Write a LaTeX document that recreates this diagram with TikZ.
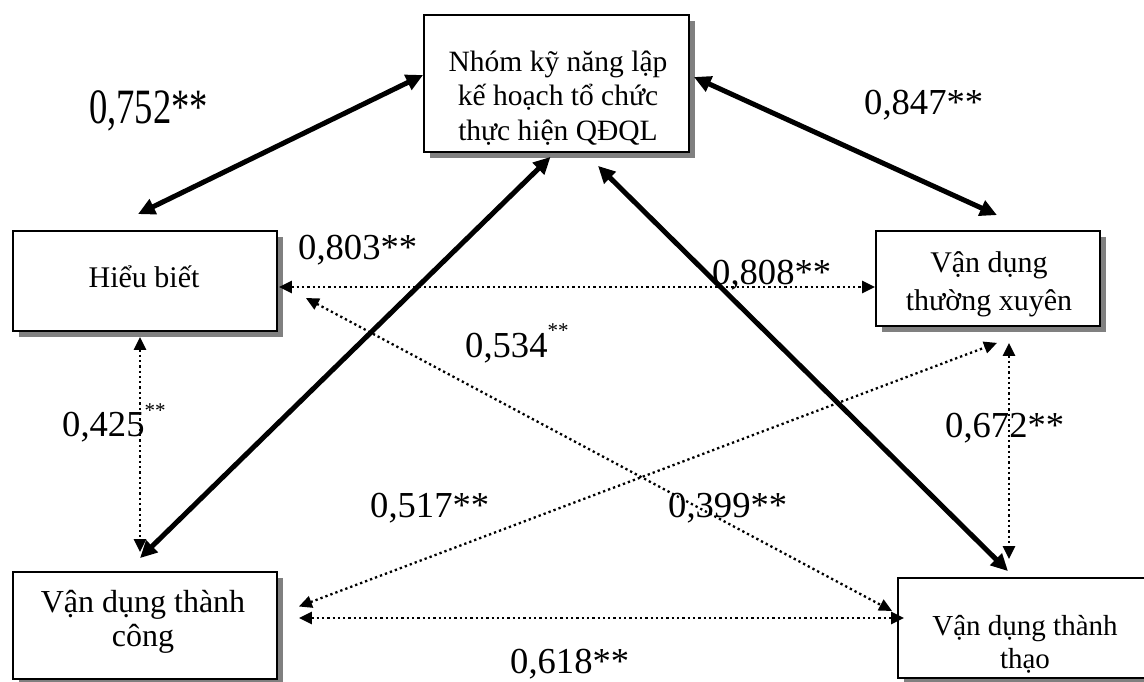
\documentclass[tikz,border=0pt]{standalone}
\usepackage{fontspec}
\setmainfont{Liberation Serif}
\usetikzlibrary{arrows.meta,calc,shadows}
\newcommand\lbfont{\fontsize{36.6}{40}\selectfont}
\newcommand\supfont{\fontsize{21}{21}\selectfont}
\begin{document}
\begin{tikzpicture}[x=1pt,y=-1pt,
  box/.style={draw, line width=1.8pt, fill=white, inner sep=0pt,
    drop shadow={shadow xshift=6pt, shadow yshift=-6pt, fill=black!50, opacity=1}},
  btext/.style={align=center, inner sep=0pt},
  lab/.style={anchor=base west, inner sep=0pt, font=\lbfont},
  thickarr/.style={line width=5pt, {Triangle[length=17pt,width=16pt]}-{Triangle[length=17pt,width=16pt]}},
  dotarr/.style={line width=2.3pt, dash pattern=on 2.3pt off 3pt, {Triangle[length=13pt,width=12pt]}-{Triangle[length=13pt,width=12pt]}}]
\useasboundingbox (0,0) rectangle (1144,682);
\clip (0,0) rectangle (1144,682);
\fill[white] (0,0) rectangle (1144,682);
% boxes
\node[box, minimum width=265pt, minimum height=137pt] (top) at (556.5,83.5) {};
\node[box, minimum width=264pt, minimum height=100pt] (hb) at (145,281) {};
\node[box, minimum width=224pt, minimum height=95pt] (tx) at (988,278.5) {};
\node[box, minimum width=264pt, minimum height=107pt] (tc) at (145,625.5) {};
\node[box, minimum width=252pt, minimum height=100pt] (tt) at (1024,628) {};
% box texts
\node[btext, font=\fontsize{29.5}{34.5}\selectfont] (topt) at (558,98) {Nhóm kỹ năng lập\\kế hoạch tổ chức\\thực hiện QĐQL};
\node[btext, font=\fontsize{30}{34}\selectfont] (hbt) at (144,277) {Hiểu biết};
\node[btext, font=\fontsize{30}{38}\selectfont] (txt) at (989,284) {Vận dụng\\thường xuyên};
\node[btext, font=\fontsize{32}{34}\selectfont] (tct) at (143,622) {Vận dụng thành\\công};
\node[btext, font=\fontsize{29}{33}\selectfont] (ttt) at (1025,644) {Vận dụng thành\\thạo};
% thick connectors
\draw[thickarr] ($(top.west)+(0,-8.5)$) -- ($(hb.north)+(-7,-16)$);
\draw[thickarr] ($(top.east)+(4,-6.5)$) -- ($(tx.north)+(9,-15)$);
\draw[thickarr] ($(top.south)+(-6,4)$) -- ($(tc.north)+(-5,-13)$);
\draw[thickarr] ($(top.south)+(41.5,13)$) -- ($(tt.north)+(-16,-6)$);
% dotted connectors
\draw[dotarr] ($(hb.east)+(1,6)$) -- ($(tx.west)+(0,8.5)$);
\draw[dotarr] ($(hb.east)+(28,17)$) -- ($(tt.west)+(-5,-17)$);
\draw[dotarr] ($(hb.south)+(-5,5)$) -- ($(tc.north)+(-5,-19)$);
\draw[dotarr] ($(tx.south)+(21,16)$) -- ($(tt.north)+(-15,-18)$);
\draw[dotarr] ($(tc.east)+(21,-19)$) -- ($(tx.south)+(9,16)$);
\draw[dotarr] ($(tc.east)+(21,-7.5)$) -- ($(tt.west)+(7,-10)$);
% labels
\node[lab] (l1) at (89,124) {\scalebox{1}[1.35]{0,752**}};
\node[lab] (l2) at (864,115) {0,847**};
\node[lab] (l3) at (298,259) {0,803**};
\node[lab] (l4) at (712,284) {0,808**};
\node[lab] (l5) at (465,357) {0,534\raisebox{20pt}{\supfont **}};
\node[lab] (l6) at (62,436) {0,425\raisebox{19pt}{\supfont **}};
\node[lab] (l7) at (945,437) {0,672**};
\node[lab] (l8) at (370,517) {0,517**};
\node[lab] (l9) at (668,517) {0,399**};
\node[lab] (l10) at (510,673) {0,618**};
\end{tikzpicture}
\end{document}
